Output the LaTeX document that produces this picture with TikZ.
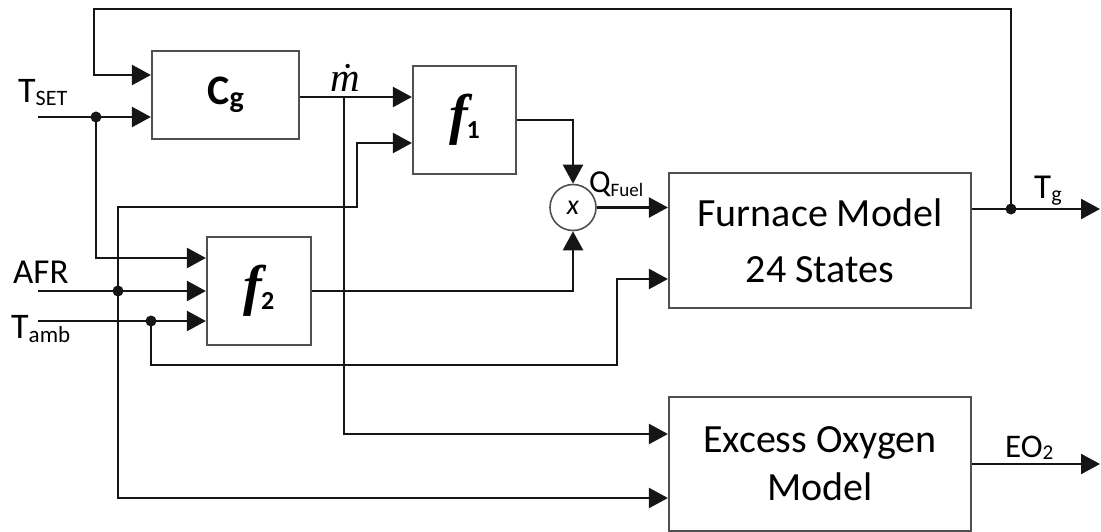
\documentclass[tikz,border=0pt]{standalone}
\usepackage{fontspec}
\setmainfont{Carlito}
\newfontfamily\tnr{Liberation Serif}
\usetikzlibrary{arrows.meta,calc}
\definecolor{linec}{HTML}{151515}
\definecolor{boxc}{HTML}{505050}
\newcommand\myfs[1]{\fontsize{#1}{#1}\selectfont}
\begin{document}
\begin{tikzpicture}[x=1pt,y=-1pt,
  blk/.style={draw=boxc,line width=2.2pt,rectangle,inner sep=0pt,fill=white},
  arr/.style={draw=linec,line width=2.4pt,-{Triangle[length=19pt,width=20pt]}},
  arrboth/.style={draw=linec,line width=2.4pt,{Triangle[length=19pt,width=20pt]}-{Triangle[length=19pt,width=20pt]}},
  lbl/.style={anchor=base west,inner sep=0pt,text=black}]
\useasboundingbox (0,0) rectangle (1101,532);

% blocks
\node[blk,minimum width=147pt,minimum height=88pt] (Cg) at (225.5,95)
  {\myfs{42}\bfseries C\raisebox{-3pt}{\myfs{30}g}};
\node[blk,minimum width=103pt,minimum height=108pt] (f1) at (464.5,120)
  {{\tnr\bfseries\itshape\myfs{56}f}\kern-1pt\raisebox{-5pt}{\myfs{26}\bfseries 1}};
\node[blk,minimum width=104pt,minimum height=108pt] (f2) at (259,291)
  {{\tnr\bfseries\itshape\myfs{56}f}\kern-1pt\raisebox{-5pt}{\myfs{26}\bfseries 2}};
\node[blk,minimum width=302pt,minimum height=135pt,align=center,
  font=\fontsize{40}{56}\selectfont] (furn) at (820,240.5) {Furnace Model\\24 States};
\node[blk,minimum width=302pt,minimum height=134pt,align=center,
  font=\fontsize{40}{48}\selectfont] (exc) at (820,464) {Excess Oxygen\\Model};
\node[circle,draw=boxc,line width=1.6pt,minimum size=46pt,inner sep=0pt] (mult) at (573,207.5)
  {\myfs{28}\itshape x};

% labels
\node[lbl] (tsetl) at (18,103) {\myfs{36}T\raisebox{-3pt}{\myfs{22}SET}};
\node[lbl] (afrl) at (13,283) {\myfs{35}AFR};
\node[lbl] (tambl) at (11,338) {\myfs{36}T\raisebox{-4pt}{\myfs{23}amb}};
\node[lbl] (mdotl) at (330,92) {\tnr\itshape\myfs{41}ṁ};
\node[lbl] (qfl) at (589,193) {\myfs{32}Q\raisebox{-4pt}{\myfs{19}Fuel}};
\node[lbl] (tgl) at (1034,199) {\myfs{35}T\raisebox{-2pt}{\myfs{22}g}};
\node[lbl] (eol) at (1005,457) {\myfs{33}EO\raisebox{-2pt}{\myfs{21}2}};

% coordinates
\coordinate (tsetin) at (38,117);
\coordinate (tsetdot) at (96,117);
\coordinate (fbl) at (94,9);
\coordinate (tgdot) at (1011,209);
\coordinate (tgend) at (1100,209);
\coordinate (eoend) at (1100,464);
\coordinate (f1a) at ([yshift=23pt]f1.west);
\coordinate (f1b) at ([yshift=-23pt]f1.west);
\coordinate (exa) at ([yshift=30pt]exc.west);
\coordinate (exb) at ([yshift=-34pt]exc.west);
\coordinate (mj) at (344,97);
\coordinate (k1) at (357,207);
\coordinate (k2) at (118,207);
\coordinate (afrin) at (38,291);
\coordinate (afrdot) at (118,291);
\coordinate (tambin) at (38,321);
\coordinate (tambdot) at (151,321);
\coordinate (ta2) at (617,365);
\coordinate (furnb) at ([yshift=-38.5pt]furn.west);

% connectors
\draw[arr] (tsetin) -- (Cg.west |- tsetin);
\draw[arr] (tgdot) |- (fbl) |- ([yshift=20pt]Cg.west);
\draw[arr] (Cg.east |- f1a) -- (f1a);
\draw[arr] (mj) |- (exa);
\draw[arrboth] (f1b) -| (k1) -- (k2) |- (exb);
\draw[arr] (tsetdot) |- ([yshift=33pt]f2.west);
\draw[arr] (afrin) -- (f2.west |- afrin);
\draw[arr] (tambin) -- (f2.west |- tambin);
\draw[arr] (tambdot) |- (ta2) |- (furnb);
\draw[arr] (f2.east) -| (mult.south);
\draw[arr] (f1.east) -| (mult.north);
\draw[arr] (mult.east) -- (furn.west |- mult.east);
\draw[arr] (furn.east |- tgend) -- (tgend);
\draw[arr] (exc.east |- eoend) -- (eoend);

% junction dots
\fill[linec] (tsetdot) circle (5.5);
\fill[linec] (afrdot) circle (5.5);
\fill[linec] (tambdot) circle (5.5);
\fill[linec] (tgdot) circle (5.5);
\end{tikzpicture}
\end{document}
